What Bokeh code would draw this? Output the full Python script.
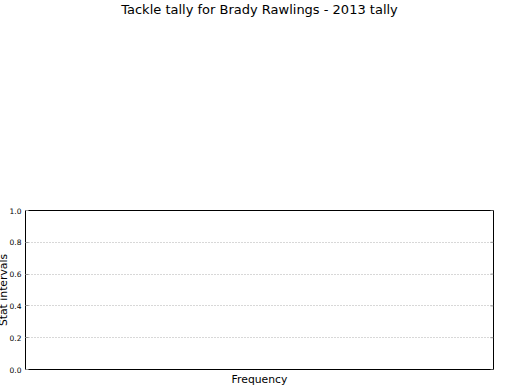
from bokeh.plotting import figure
from bokeh.layouts import column
from bokeh.models import ColumnDataSource, FixedTicker, Title, CustomJSTickFormatter
from bokeh.embed import file_html
from bokeh.resources import INLINE

# ---- data (the reference chart is empty: no tallies plotted) ----
frequency = []
stat_intervals = []
y_ticks = [0.0, 0.2, 0.4, 0.6, 0.8, 1.0]
title_text = "Tackle tally for Brady Rawlings - 2013 tally"
x_label = "Frequency"
y_label = "Stat intervals"

FONT = "DejaVu Sans"
W = 520
TOP_H = 30

# ---- title strip ----
t = figure(width=W, height=TOP_H, output_backend="svg", toolbar_location=None,
           x_axis_location=None, y_axis_location=None,
           min_border_left=25, min_border_right=27, min_border_top=0, min_border_bottom=0)
t.outline_line_color = None
t.xgrid.visible = False
t.ygrid.visible = False
t.border_fill_color = "white"
t.title = Title(text=title_text, align="center", vertical_align="bottom",
                text_font=FONT, text_font_size="13px", text_font_style="normal",
                text_color="black", standoff=-2)

# ---- main chart ----
p = figure(width=W, height=390 - TOP_H, output_backend="svg", toolbar_location=None,
           x_range=(0, 1), y_range=(0, 1),
           min_border_left=25, min_border_right=27, min_border_top=210 - TOP_H, min_border_bottom=21)
p.background_fill_color = "white"
p.border_fill_color = "white"
p.outline_line_color = "black"
p.outline_line_width = 1

src = ColumnDataSource(dict(y=stat_intervals, right=frequency))
p.hbar(y="y", right="right", height=0.1, source=src, color="#1f77b4")

# x axis: label only, no ticks
xa = p.xaxis[0]
xa.ticker = FixedTicker(ticks=[])
xa.axis_line_color = None
xa.major_tick_line_color = None
xa.minor_tick_line_color = None
xa.major_label_standoff = 0
xa.axis_label = x_label
xa.axis_label_standoff = 3
xa.axis_label_text_font = FONT
xa.axis_label_text_font_size = "10.8px"
xa.axis_label_text_font_style = "normal"
xa.axis_label_text_color = "black"

# y axis (tick labels only; the axis title is a side Title so it can hug the edge)
ya = p.yaxis[0]
ya.ticker = FixedTicker(ticks=y_ticks)
ya.formatter = CustomJSTickFormatter(code="return tick.toFixed(1);")
ya.axis_line_color = None
ya.major_tick_in = 3
ya.major_tick_out = 0
ya.major_tick_line_color = "#999999"
ya.minor_tick_line_color = None
ya.major_label_standoff = 4
ya.major_label_text_font = FONT
ya.major_label_text_font_size = "7.5px"
ya.major_label_text_color = "black"

p.add_layout(Title(text=y_label, align="center", vertical_align="top",
                   text_font=FONT, text_font_size="10.8px", text_font_style="normal",
                   text_color="black", standoff=-11), "left")

# inward tick marks on the right frame edge, one per y tick
tick_len = 3.0 / 468.0  # 3 px expressed in x-range units
p.segment(x0=[1 - tick_len] * len(y_ticks), x1=[1] * len(y_ticks),
          y0=y_ticks, y1=y_ticks, line_color="#999999", line_width=1)

# grids
p.xgrid.visible = False
p.ygrid.ticker = FixedTicker(ticks=y_ticks)
p.ygrid.grid_line_color = "#b0b0b0"
p.ygrid.grid_line_dash = "1 2"
p.ygrid.grid_line_width = 1

layout = column(t, p, spacing=0)
open("out.html", "w").write(file_html(layout, INLINE))
